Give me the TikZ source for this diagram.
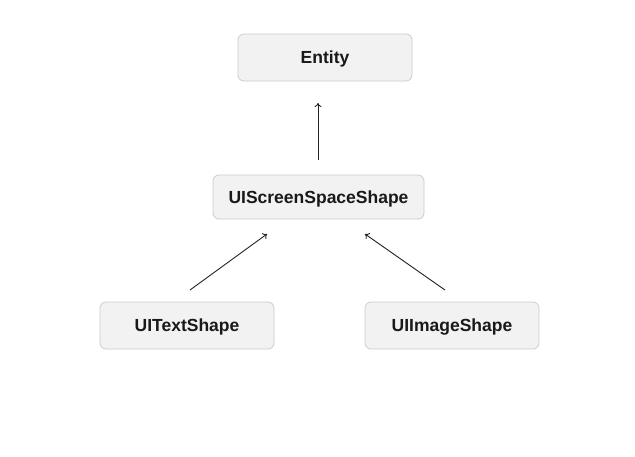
\documentclass[tikz,border=0pt]{standalone}
\usepackage{fontspec}
\setmainfont{Liberation Sans}
\usetikzlibrary{arrows.meta}
\definecolor{boxfill}{HTML}{F2F2F2}
\definecolor{boxline}{HTML}{CCCCCC}
\definecolor{arr}{HTML}{222222}
\begin{document}
\begin{tikzpicture}[x=1pt,y=-1pt,
  cls/.style={draw=boxline,fill=boxfill,rounded corners=6pt,line width=0.8pt,
    minimum width=174pt,minimum height=47pt,inner sep=0pt,
    text height=12.5pt,text depth=0pt,
    font=\fontsize{17.5}{19}\selectfont\bfseries,text=black!90},
  rel/.style={draw=arr,line width=0.9pt,-{To[length=4pt,width=7pt]}}]
\useasboundingbox[fill=white] (0,0) rectangle (635,456);
\node[cls] (entity) at (325,57.5) {Entity};
\node[cls,minimum width=211pt,minimum height=44pt] (screen) at (318.5,197) {UIScreenSpaceShape};
\node[cls] (text) at (187,325.5) {UITextShape};
\node[cls] (image) at (452,325.5) {UIImageShape};
\coordinate (a1) at (318,160);
\coordinate (a2) at (318,103);
\coordinate (b1) at (190,290);
\coordinate (b2) at (267,234);
\coordinate (c1) at (445,290);
\coordinate (c2) at (365,234);
\draw[rel] (a1) -- (a2);
\draw[rel] (b1) -- (b2);
\draw[rel] (c1) -- (c2);
\end{tikzpicture}
\end{document}
